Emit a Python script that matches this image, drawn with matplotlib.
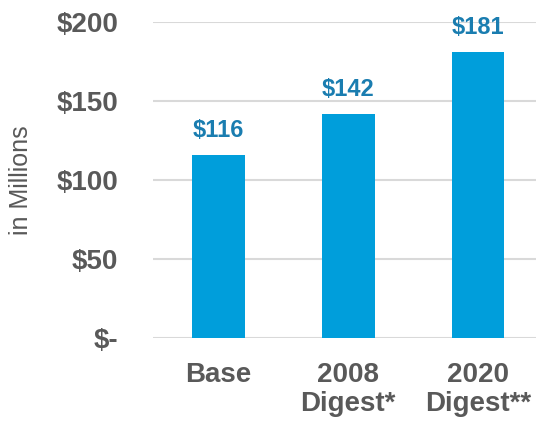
import matplotlib
matplotlib.use("Agg")
import matplotlib.pyplot as plt

categories = ["Base", "2008\nDigest*", "2020\nDigest**"]
values = [116, 142, 181]
y_ticks = [0, 50, 100, 150, 200]
y_tick_labels = ["$-", "$50", "$100", "$150", "$200"]
value_labels = ["$116", "$142", "$181"]

plt.rcParams['font.family'] = ['Liberation Sans', 'DejaVu Sans']

W, H = 536, 422
fig = plt.figure(figsize=(W / 100, H / 100), dpi=100)
ax = fig.add_axes([153 / W, (H - 338) / H, (536 - 153) / W, (338 - 22) / H])

x = list(range(len(categories)))
bars = ax.bar(x, values, width=0.405, color="#009EDB", zorder=3)

for xi, v, lab in zip(x, values, value_labels):
    ax.annotate(lab, (xi, v), xytext=(0, 13), textcoords="offset points",
                ha="center", va="baseline", fontsize=17, fontweight="bold",
                color="#1A7DB0", annotation_clip=False)

ax.set_xlim(-0.504, 2.446)
ax.set_ylim(0, 200)
ax.set_yticks(y_ticks)
ax.set_yticklabels(y_tick_labels)
ax.set_xticks(x)
ax.set_xticklabels(categories, linespacing=1.15)

for lbl in ax.get_yticklabels() + ax.get_xticklabels():
    lbl.set_fontsize(20)
    lbl.set_fontweight("bold")
    lbl.set_color("#595959")

ax.tick_params(axis="y", length=0, pad=25)
ax.tick_params(axis="x", length=0, pad=17)

ax.yaxis.grid(True, color="#D9D9D9", linewidth=1.5, zorder=0)
ax.set_axisbelow(True)
for s in ax.spines.values():
    s.set_visible(False)

ax.set_ylabel("in Millions", fontsize=18, color="#595959")
ax.yaxis.set_label_coords(-0.314, 0.5)

fig.savefig("out.png", dpi=100)
